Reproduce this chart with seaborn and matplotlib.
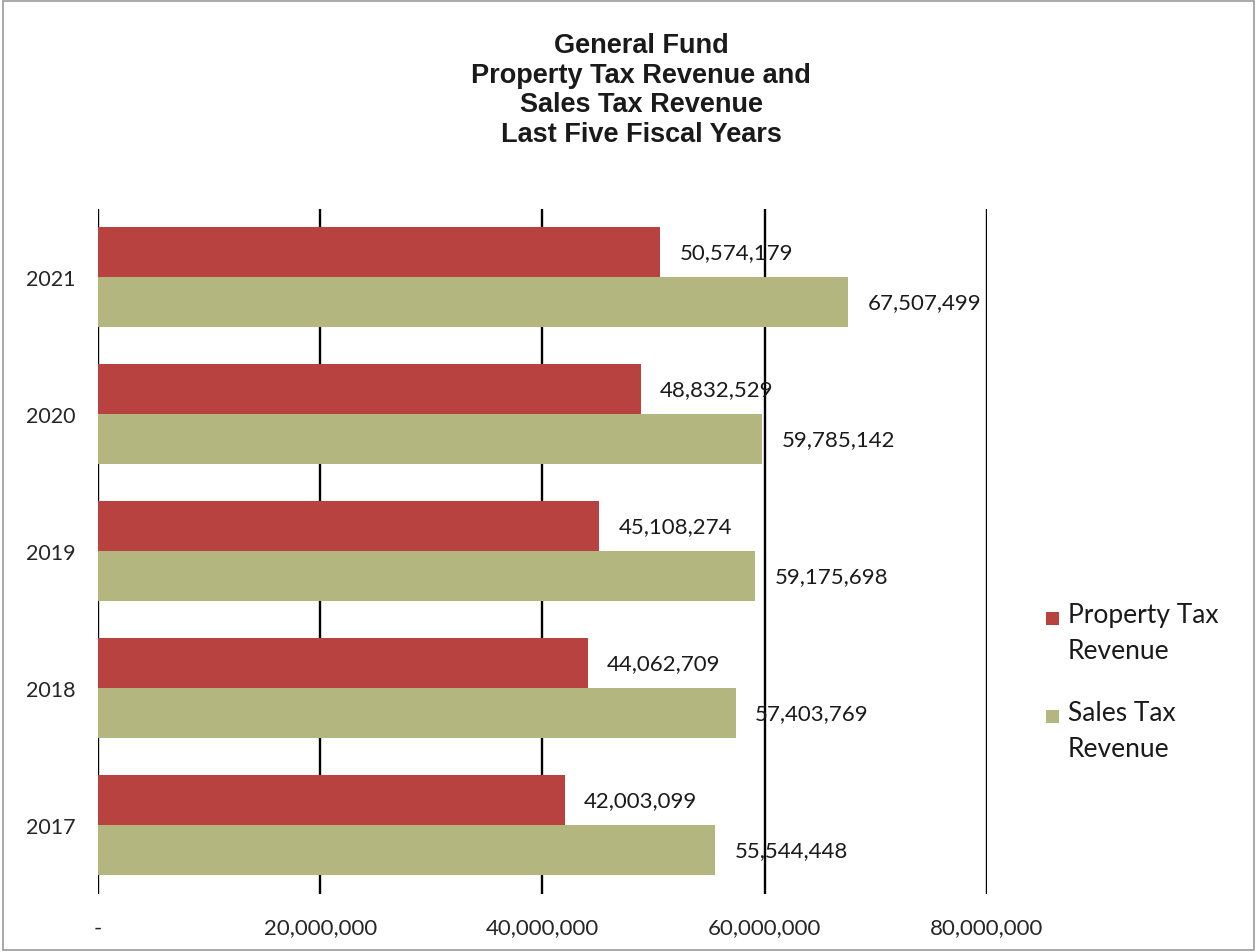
import pandas as pd
import seaborn as sns
import matplotlib.pyplot as plt
from matplotlib.patches import Rectangle
from matplotlib.legend_handler import HandlerPatch

# Données
years = ["2021", "2020", "2019", "2018", "2017"]
property_tax = [50574179, 48832529, 45108274, 44062709, 42003099]
sales_tax = [67507499, 59785142, 59175698, 57403769, 55544448]
series_names = ["Property Tax\nRevenue", "Sales Tax\nRevenue"]
tick_values = [0, 20000000, 40000000, 60000000, 80000000]
tick_labels = ["-", "20,000,000", "40,000,000", "60,000,000", "80,000,000"]
colors = ["#B8423F", "#B4B67F"]

df = pd.DataFrame({
    "Year": years * 2,
    "Value": property_tax + sales_tax,
    "Series": [series_names[0]] * len(years) + [series_names[1]] * len(years),
})

sns.set_theme(style="white")
plt.rcParams["font.family"] = ["Lato", "DejaVu Sans"]

fig = plt.figure(figsize=(12.57, 9.53), dpi=100)
ax = fig.add_axes([0.078, 0.061, 0.707, 0.719])

sns.barplot(data=df, x="Value", y="Year", hue="Series", order=years,
            hue_order=series_names, palette=colors, orient="h",
            width=0.73, ax=ax, saturation=1, legend=True,
            edgecolor="none", linewidth=0)

ax.set_xlim(0, 80000000)
ax.set_xticks(tick_values)
ax.set_xticklabels(tick_labels, fontsize=16)
ax.tick_params(axis="x", length=0, pad=17)
ax.tick_params(axis="y", length=0, pad=16, labelsize=15.5)
ax.set_xlabel("")
ax.set_ylabel("")
for s in ax.spines.values():
    s.set_visible(False)
ax.grid(axis="x", color="black", linewidth=1.7)
ax.set_axisbelow(True)

# Étiquettes des valeurs
for cont in ax.containers:
    for bar in cont:
        w = bar.get_width()
        ax.annotate(f"{w:,.0f}", (w, bar.get_y() + bar.get_height() / 2),
                    xytext=(14, 0), textcoords="offset points",
                    va="center", ha="left", fontsize=16, color="#1a1a1a")


# Carré de légende aligné sur la première ligne du texte
def top_square(legend, orig_handle, xdescent, ydescent, width, height, fontsize):
    s = 0.5 * fontsize
    return Rectangle((-xdescent + (width - s) / 2, -ydescent + height - 0.62 * fontsize - s / 2), s, s)


handles, labels = ax.get_legend_handles_labels()
leg = ax.legend(handles, labels, loc="center left", bbox_to_anchor=(1.038, 0.31),
                frameon=False, fontsize=19, handlelength=0.6, handleheight=1.2,
                handletextpad=0.3, labelspacing=1.4,
                handler_map={h: HandlerPatch(patch_func=top_square) for h in handles})
for t in leg.get_texts():
    t.set_linespacing(1.55)
    t.set_color("#1a1a1a")
for col in leg._legend_handle_box.get_children():
    for item in col.get_children():
        item.align = "top"

fig.text(0.51, 0.905, "General Fund\nProperty Tax Revenue and\nSales Tax Revenue\nLast Five Fiscal Years",
         ha="center", va="center", fontsize=19.5, fontweight="bold",
         family="Liberation Sans", linespacing=1.19, color="#1a1a1a")

fig.patches.append(Rectangle((0.002, 0.002), 0.996, 0.996, transform=fig.transFigure,
                             fill=False, edgecolor="#9a9a9a", linewidth=1.2))

fig.savefig("out.png", dpi=100)
